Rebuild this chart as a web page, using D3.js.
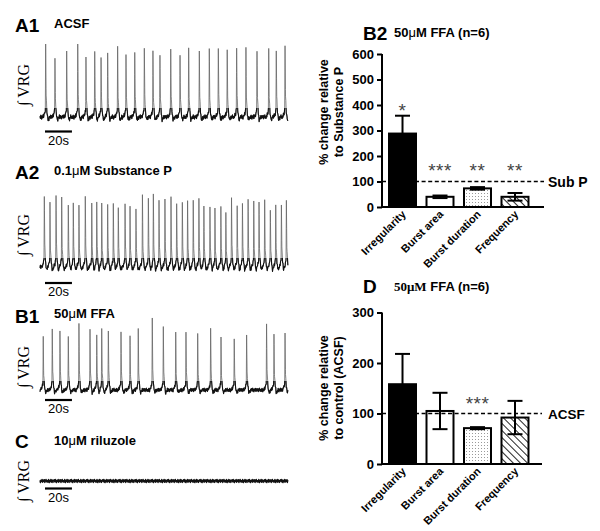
<!DOCTYPE html>
<html><head><meta charset="utf-8">
<script src="https://cdn.jsdelivr.net/npm/d3@7"></script>
<style>
body{margin:0;background:#fff}
svg{display:block;font-family:"Liberation Sans",Arial,sans-serif}
</style>
</head><body>
<svg id="c" width="600" height="531"></svg>
<script>
// ---------------- DATA ----------------
const traceSpan = 184; // seconds shown in each trace
const scaleBarSeconds = 20;

// A1 ACSF: burst times (s) and amplitudes (a.u.)
const a1Times = [4.2, 11.1, 19.8, 28.0, 34.1, 40.6, 45.3, 50.2, 57.6, 63.8, 70.3, 77.4, 83.8, 89.0, 97.0, 103.9, 110.3, 118.2, 125.6, 132.3, 138.9, 145.9, 152.8, 161.0, 169.7, 175.3, 181.8];
const a1Amps  = [72, 60, 64, 74, 60, 65, 60, 64, 69, 64, 64, 69, 67, 62, 69, 61, 68, 65, 67, 70, 66, 69, 69, 66, 68, 66, 71];

// A2 Substance P
const a2Times = [3.2, 7.4, 11.9, 16.1, 21.0, 24.7, 28.9, 33.6, 38.4, 42.1, 45.8, 50.2, 54.4, 58.1, 63.1, 66.8, 71.2, 76.0, 80.4, 84.1, 88.3, 92.7, 97.2, 101.4, 105.6, 109.5, 113.7, 117.9, 121.6, 126.1, 129.8, 134.2, 137.9, 142.1, 146.3, 150.2, 154.4, 158.6, 162.5, 166.7, 170.9, 174.9, 179.1, 182.8];
const a2Amps  = [71, 64, 72, 70, 63, 65, 61, 72, 64, 66, 64, 62, 63, 60, 64, 61, 59, 73, 69, 73, 67, 66, 69, 64, 66, 67, 65, 68, 62, 61, 59, 60, 55, 70, 61, 64, 67, 65, 64, 67, 57, 63, 64, 66];

// B1 FFA
const b1Times = [2.4, 9.1, 14.8, 21.0, 28.9, 37.1, 42.1, 45.8, 50.7, 60.1, 66.8, 72.9, 83.3, 91.5, 100.7, 108.3, 117.0, 126.6, 134.3, 144.1, 153.3, 168.1, 173.6, 181.8];
const b1Amps  = [53, 62, 60, 54, 66, 61, 56, 61, 61, 59, 53, 60, 71, 63, 57, 57, 57, 62, 53, 52, 57, 67, 55, 55];

// C riluzole: no bursts
const cTimes = [];
const cAmps = [];

// baseline noise pattern (a.u., typical wiggle)
const noisePattern = [0.3,-0.6,0.8,-0.2,-0.9,0.5,0.1,-0.4,0.9,-0.7,0.2,0.6,-0.3,-0.8,0.4,0.0,0.7,-0.5,-0.1,0.9,-0.6,0.3,-0.9,0.5,0.2,-0.3,0.8,-0.7,0.1,0.6,-0.4,-0.2,0.7,-0.8,0.4,-0.1,0.9,-0.5,0.2,-0.6];

// burst waveform template: [time offset s, fraction of amplitude, absolute offset]
const burstShape = [[-2.0,0,0],[-0.8,0,3],[-0.25,0.08,2],[0,1,0],[0.35,0.3,0],[0.9,0.08,0],[1.6,0,-2.5],[2.4,0,-1.5],[3.0,0,0]];

// Bar charts
const categories = ["Irregularity", "Burst area", "Burst duration", "Frequency"];
const b2Values = [288, 40, 73, 40];
const b2Errors = [70, 5, 5, 15];
const b2Stars  = ["*", "***", "**", "**"];
const b2StarLevel = [398, 161, 161, 161];
const b2Ticks = [0, 100, 200, 300, 400, 500, 600];

const dValues = [158, 105, 71, 92];
const dErrors = [60, 36, 2, 33];
const dStars  = ["", "", "***", ""];
const dStarLevel = [0, 0, 129, 0];
const dTicks = [0, 100, 200, 300];
const refLevel = 100;

// ---------------- DRAW ----------------
const SANS = "'Liberation Sans',Arial,sans-serif";
const SERIF = "'Liberation Serif','DejaVu Serif',serif";
const NARROW = "'Liberation Sans Narrow','Liberation Sans',Arial,sans-serif";
const svg = d3.select("#c");
const defs = svg.append("defs");
const dots = defs.append("pattern").attr("id","dots").attr("width",3).attr("height",3).attr("patternUnits","userSpaceOnUse");
dots.append("rect").attr("width",3).attr("height",3).attr("fill","#fff");
dots.append("rect").attr("x",1).attr("y",1).attr("width",1).attr("height",1).attr("fill","#9a9a9a");
const hatch = defs.append("pattern").attr("id","hatch").attr("width",5).attr("height",5).attr("patternUnits","userSpaceOnUse").attr("patternTransform","rotate(-45)");
hatch.append("rect").attr("width",5).attr("height",5).attr("fill","#fff");
hatch.append("line").attr("x1",0).attr("y1",0).attr("x2",0).attr("y2",5).attr("stroke","#000").attr("stroke-width",1.7);

const x = d3.scaleLinear().domain([0, traceSpan]).range([40, 288]);

function noiseAt(t, offset) {
  const step = 0.3, n = noisePattern.length;
  const f = t / step, i = Math.floor(f), r = f - i;
  const a = noisePattern[(i + offset) % n], b = noisePattern[(i + 1 + offset) % n];
  return a + (b - a) * r;
}
function burstAt(t, t0, amp) {
  const d = t - t0;
  if (d < burstShape[0][0] || d > burstShape[burstShape.length-1][0]) return 0;
  for (let k = 0; k < burstShape.length - 1; k++) {
    const p = burstShape[k], q = burstShape[k+1];
    if (d >= p[0] && d <= q[0]) {
      const r = (d - p[0]) / (q[0] - p[0]);
      const vp = p[1]*amp + p[2], vq = q[1]*amp + q[2];
      return vp + (vq - vp) * r;
    }
  }
  return 0;
}
function buildTrace(times, amps, noiseAmp, offset) {
  const ts = [];
  for (let t = 0; t <= traceSpan + 1e-6; t += 0.3) ts.push(t);
  times.forEach(t0 => burstShape.forEach(k => { const t = t0 + k[0]; if (t >= 0 && t <= traceSpan) ts.push(t); }));
  ts.sort((a,b) => a - b);
  return ts.map(t => {
    let v = noiseAt(t, offset) * noiseAmp;
    times.forEach((t0, i) => { v += burstAt(t, t0, amps[i]); });
    return [t, v];
  });
}

const traces = [
  {label:"A1", title:[{t:"ACSF"}], times:a1Times, amps:a1Amps, base:117, noise:2.5, off:0, ly:32, ty:28, vrgY:85, barY:131.5},
  {label:"A2", title:[{t:"0.1"},{t:"μ",w:"normal"},{t:"M Substance P"}], times:a2Times, amps:a2Amps, base:267, noise:2.2, off:7, ly:179, ty:175, vrgY:235, barY:283},
  {label:"B1", title:[{t:"50"},{t:"μ",w:"normal"},{t:"M FFA"}], times:b1Times, amps:b1Amps, base:390, noise:2.2, off:13, ly:323, ty:318, vrgY:367, barY:400},
  {label:"C", title:[{t:"10"},{t:"μ",w:"normal"},{t:"M riluzole"}], times:cTimes, amps:cAmps, base:481, noise:2.0, off:21, ly:448, ty:445, vrgY:481, barY:488.5}
];

traces.forEach((tr, ti) => {
  const y = d3.scaleLinear().domain([0, 76]).range([tr.base, tr.base - 76]);
  const data = buildTrace(tr.times, tr.amps, tr.noise, tr.off);
  const line = d3.line().x(d => x(d[0])).y(d => y(d[1]));
  // full trace in grey (spikes look grey in the original)
  svg.append("path").datum(data).attr("d", line)
    .attr("fill","none").attr("stroke","#666").attr("stroke-width",0.8).attr("stroke-linejoin","round");
  // dark overlay on the baseline band
  defs.append("clipPath").attr("id","clip"+ti).append("rect")
    .attr("x",0).attr("width",300).attr("y",tr.base - 9).attr("height",16);
  svg.append("path").datum(data).attr("d", line).attr("clip-path",`url(#clip${ti})`)
    .attr("fill","none").attr("stroke","#111").attr("stroke-width",1.1).attr("stroke-linejoin","round");

  svg.append("text").attr("x",15).attr("y",tr.ly).attr("font-size",19).attr("font-weight","bold").style("font-family",SANS).text(tr.label);
  const tt = svg.append("text").attr("x",54).attr("y",tr.ty).attr("font-size",13).attr("font-weight","bold").style("font-family",SANS);
  tr.title.forEach(s => tt.append("tspan").attr("font-weight", s.w || "bold").text(s.t));
  svg.append("text").attr("transform",`translate(23,${tr.vrgY}) rotate(-90)`)
    .attr("text-anchor","middle").attr("dominant-baseline","central")
    .style("font-family",SERIF).attr("font-size",16)
    .text("∫ VRG");
  const sb0 = 3.7;
  svg.append("line").attr("x1",x(sb0)).attr("x2",x(sb0+scaleBarSeconds)).attr("y1",tr.barY).attr("y2",tr.barY)
    .attr("stroke","#000").attr("stroke-width",2.2);
  svg.append("text").attr("x",(x(sb0)+x(sb0+scaleBarSeconds))/2).attr("y",tr.barY+13)
    .attr("text-anchor","middle").attr("font-size",13)
    .style("font-family",NARROW)
    .text(scaleBarSeconds + "s");
});

// ---------------- BAR CHARTS ----------------
const xb = d3.scaleBand().domain(categories).range([382, 535.5]).paddingInner(0.28).paddingOuter(0.187);
const fills = ["#000", "#fff", "url(#dots)", "url(#hatch)"];

function barChart(cfg) {
  const y = d3.scaleLinear().domain([0, cfg.max]).range([cfg.y0, cfg.yTop]);
  const g = svg.append("g").style("font-family",SANS);
  g.selectAll("rect.bar").data(categories).join("rect")
    .attr("x", c => xb(c)).attr("width", xb.bandwidth())
    .attr("y", (c,i) => y(cfg.values[i])).attr("height", (c,i) => y(0) - y(cfg.values[i]))
    .attr("fill", (c,i) => fills[i]).attr("stroke","#000").attr("stroke-width",2);
  categories.forEach((c,i) => {
    const cx = xb(c) + xb.bandwidth()/2;
    const hi = y(cfg.values[i] + cfg.errors[i]), lo = y(Math.max(0, cfg.values[i] - cfg.errors[i]));
    g.append("line").attr("x1",cx).attr("x2",cx).attr("y1",hi).attr("y2",lo).attr("stroke","#000").attr("stroke-width",2);
    [hi, lo].forEach(yy => g.append("line").attr("x1",cx-7.5).attr("x2",cx+7.5).attr("y1",yy).attr("y2",yy).attr("stroke","#000").attr("stroke-width",2));
    if (cfg.stars[i]) {
      g.append("text").attr("x",cx).attr("y", y(cfg.starLevel[i]) + 11)
        .attr("text-anchor","middle").attr("font-size",19).attr("fill","#444").attr("letter-spacing",0.5)
        .text(cfg.stars[i]);
    }
  });
  g.append("line").attr("x1",382).attr("x2",cfg.xEnd).attr("y1",y(refLevel)).attr("y2",y(refLevel))
    .attr("stroke","#000").attr("stroke-width",1.6).attr("stroke-dasharray","4,2.6");
  g.append("text").attr("x",548).attr("y",y(refLevel)+5).attr("font-size",cfg.refSize).attr("font-weight","bold").text(cfg.refLabel);
  const ax = g.append("g").attr("transform","translate(382,0)")
    .call(d3.axisLeft(y).tickValues(cfg.ticks).tickSize(5).tickPadding(3).tickFormat(d3.format("d")));
  ax.attr("font-family", null);
  ax.select(".domain").attr("stroke-width",2).attr("d", `M-0,${cfg.yTop}V${cfg.y0}`);
  ax.selectAll(".tick line").attr("stroke-width",2);
  ax.selectAll(".tick text").attr("font-size",13).attr("font-weight","bold").style("font-family",SANS).attr("fill","#000");
  g.append("line").attr("x1",381).attr("x2",cfg.xEnd).attr("y1",cfg.y0).attr("y2",cfg.y0).attr("stroke","#000").attr("stroke-width",2);
  categories.forEach(c => {
    const cx = xb(c) + xb.bandwidth()/2;
    g.append("text").attr("transform",`translate(${cx+4},${cfg.y0+8}) rotate(-45)`)
      .attr("text-anchor","end").attr("font-size",11).attr("font-weight","bold").text(c);
  });
  cfg.yTitle.forEach((line, k) => {
    g.append("text").attr("transform",`translate(${328 + k*15},${cfg.titleMid}) rotate(-90)`)
      .attr("text-anchor","middle").attr("font-size",12.5).attr("font-weight","bold").text(line);
  });
  g.append("text").attr("x",363).attr("y",cfg.labelY).attr("font-size",19).attr("font-weight","bold").text(cfg.label);
  const t = g.append("text").attr("x",394).attr("y",cfg.titleY).attr("font-size",13).attr("font-weight","bold");
  cfg.title.forEach(s => { const sp = t.append("tspan").attr("font-weight", s.w || "bold").text(s.t); if (s.f) sp.style("font-family", s.f); });
}

barChart({values:b2Values, errors:b2Errors, stars:b2Stars, starLevel:b2StarLevel, ticks:b2Ticks, max:600,
  y0:207, yTop:54, xEnd:544, refLabel:"Sub P", refSize:14, titleMid:112,
  yTitle:["% change relative","to Substance P"], label:"B2", labelY:40, titleY:37,
  title:[{t:"50"},{t:"μ",w:"normal"},{t:"M FFA (n=6)"}]});

barChart({values:dValues, errors:dErrors, stars:dStars, starLevel:dStarLevel, ticks:dTicks, max:300,
  y0:464, yTop:312.5, xEnd:542, refLabel:"ACSF", refSize:13.5, titleMid:388,
  yTitle:["% change relative","to control (ACSF)"], label:"D", labelY:293, titleY:291,
  title:[{t:"50μM", f:SERIF},{t:" FFA (n=6)"}]});
</script>
</body></html>
